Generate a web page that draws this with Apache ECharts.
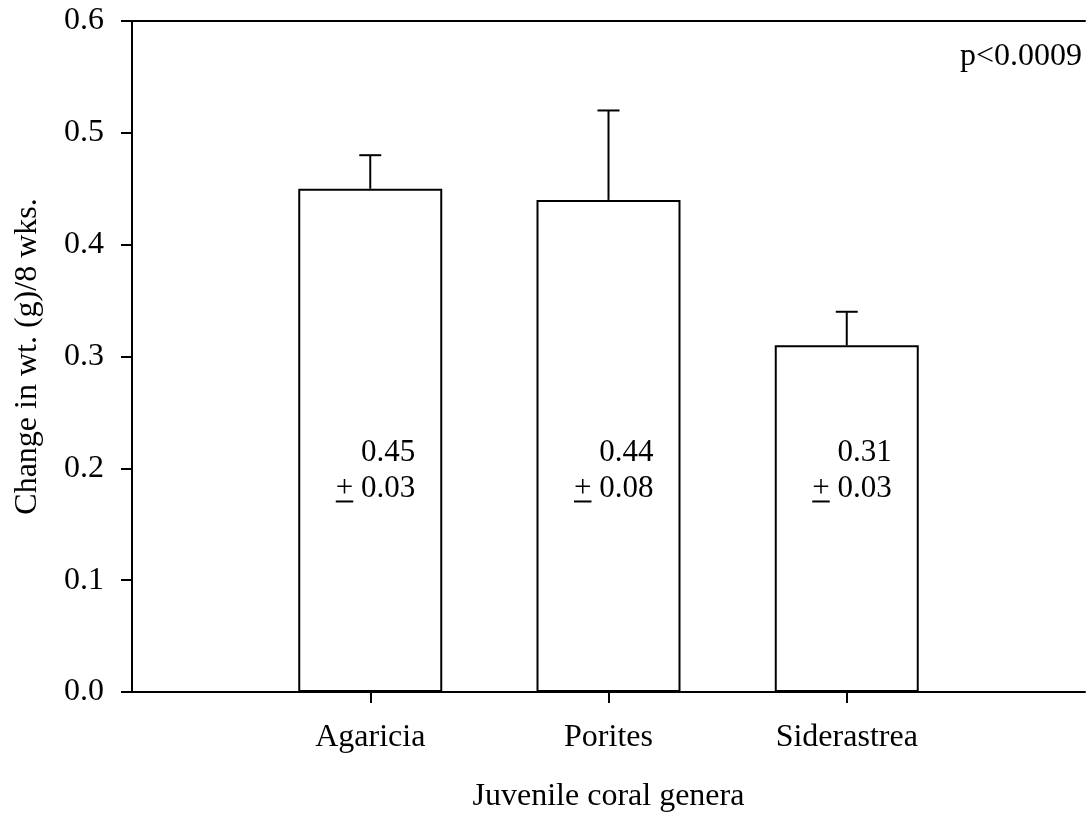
<!DOCTYPE html>
<html>
<head>
<meta charset="utf-8">
<title>Juvenile coral growth</title>
<script src="https://cdn.jsdelivr.net/npm/echarts@6/dist/echarts.min.js"></script>
<style>
  html, body { margin: 0; padding: 0; background: #fff; }
  #chart { width: 1088px; height: 819px; }
</style>
</head>
<body>
<div id="chart"></div>
<script>
// Mean weight change over 8 weeks, with standard error, per coral genus
const genera = ['Agaricia', 'Porites', 'Siderastrea'];
const meanChange = [0.45, 0.44, 0.31];
const stdError = [0.03, 0.08, 0.03];
const yTicks = [0.0, 0.1, 0.2, 0.3, 0.4, 0.5, 0.6];
const pValueText = 'p<0.0009';

const FONT = '"Liberation Serif", "Times New Roman", serif';
const AXIS_FONT_SIZE = 32;
const BAR_FONT = '31px ' + FONT;

// Empty slots on either side give the open space left and right of the bars
const axisCats = [''].concat(genera, ['']);
const barData = [null].concat(meanChange, [null]);
const errData = genera.map((g, i) => [i + 1, meanChange[i], stdError[i]]);
const labelData = genera.map((g, i) => [i + 1, meanChange[i], stdError[i]]);

// text metrics for placing the underlined plus sign of the "+ SE" line
const measureCtx = document.createElement('canvas').getContext('2d');
measureCtx.font = BAR_FONT;
function textWidth(s) { return measureCtx.measureText(s).width; }
measureCtx.textBaseline = 'middle';
const digitDrop = measureCtx.measureText('0').actualBoundingBoxDescent || 10;

const chart = echarts.init(document.getElementById('chart'), null, { renderer: 'canvas' });

chart.setOption({
  animation: false,
  backgroundColor: '#ffffff',
  textStyle: { fontFamily: FONT, color: '#000' },
  grid: { left: 132, width: 960, top: 21, bottom: 127, containLabel: false },
  xAxis: [{
    type: 'category',
    data: axisCats,
    boundaryGap: false,
    name: 'Juvenile coral genera',
    nameLocation: 'middle',
    nameGap: 89,
    nameTextStyle: { fontFamily: FONT, fontSize: AXIS_FONT_SIZE, color: '#000' },
    axisLine: { show: true, onZero: false, lineStyle: { color: '#000', width: 2 } },
    axisTick: {
      show: true, length: 11, inside: false,
      interval: (idx) => idx > 0 && idx < axisCats.length - 1,
      lineStyle: { color: '#000', width: 2 }
    },
    axisLabel: { interval: 0, margin: 30, fontFamily: FONT, fontSize: AXIS_FONT_SIZE, color: '#000' },
    splitLine: { show: false }
  }, {
    // top frame line
    type: 'category',
    data: axisCats,
    boundaryGap: false,
    position: 'top',
    axisLine: { show: true, onZero: false, lineStyle: { color: '#000', width: 2 } },
    axisTick: { show: false },
    axisLabel: { show: false },
    splitLine: { show: false }
  }],
  yAxis: {
    type: 'value',
    min: yTicks[0],
    max: yTicks[yTicks.length - 1],
    interval: 0.1,
    name: 'Change in wt. (g)/8 wks.',
    nameLocation: 'middle',
    nameGap: 88,
    nameRotate: 90,
    nameTextStyle: { fontFamily: FONT, fontSize: AXIS_FONT_SIZE, color: '#000' },
    axisLine: { show: true, onZero: false, lineStyle: { color: '#000', width: 2 } },
    axisTick: { show: true, length: 11, inside: false, lineStyle: { color: '#000', width: 2 } },
    axisLabel: {
      margin: 28, fontFamily: FONT, fontSize: AXIS_FONT_SIZE, color: '#000',
      formatter: (v) => v.toFixed(1)
    },
    splitLine: { show: false }
  },
  series: [{
    type: 'bar',
    data: barData,
    barWidth: 144,
    itemStyle: { color: '#ffffff', borderColor: '#000', borderWidth: 2 },
    silent: true
  }, {
    // upper error bars
    type: 'custom',
    data: errData,
    silent: true,
    z: 3,
    renderItem: (params, api) => {
      const x = api.value(0);
      const m = api.value(1);
      const e = api.value(2);
      const base = api.coord([x, m]);
      const top = api.coord([x, m + e]);
      const cap = 11;
      return {
        type: 'group',
        children: [{
          type: 'line',
          shape: { x1: base[0], y1: base[1], x2: top[0], y2: top[1] },
          style: { stroke: '#000', lineWidth: 2 }
        }, {
          type: 'line',
          shape: { x1: top[0] - cap, y1: top[1], x2: top[0] + cap, y2: top[1] },
          style: { stroke: '#000', lineWidth: 2 }
        }]
      };
    }
  }, {
    // mean and underlined "+ SE" written inside each bar
    type: 'custom',
    data: labelData,
    silent: true,
    z: 4,
    renderItem: (params, api) => {
      const x = api.value(0);
      const m = api.value(1);
      const e = api.value(2);
      const p = api.coord([x, 0.2]);
      const right = p[0] + 45;
      const y1 = p[1] - 15;
      const y2 = p[1] + 21;
      const seText = e.toFixed(2);
      const plusRight = right - textWidth(seText) - textWidth(' ');
      const plusLeft = plusRight - textWidth('+');
      const lineY = y2 + digitDrop + 4;
      const txt = (s, tx, ty) => ({
        type: 'text', x: tx, y: ty,
        style: { text: s, align: 'right', verticalAlign: 'middle', font: BAR_FONT, fill: '#000' }
      });
      return {
        type: 'group',
        children: [
          txt(m.toFixed(2), right, y1),
          txt(seText, right, y2),
          txt('+', plusRight, y2),
          {
            type: 'line',
            shape: { x1: plusLeft, y1: lineY, x2: plusRight, y2: lineY },
            style: { stroke: '#000', lineWidth: 2 }
          }
        ]
      };
    }
  }],
  graphic: [{
    type: 'text',
    right: 6,
    top: 41,
    style: { text: pValueText, font: AXIS_FONT_SIZE + 'px ' + FONT, fill: '#000' }
  }]
});
</script>
</body>
</html>
